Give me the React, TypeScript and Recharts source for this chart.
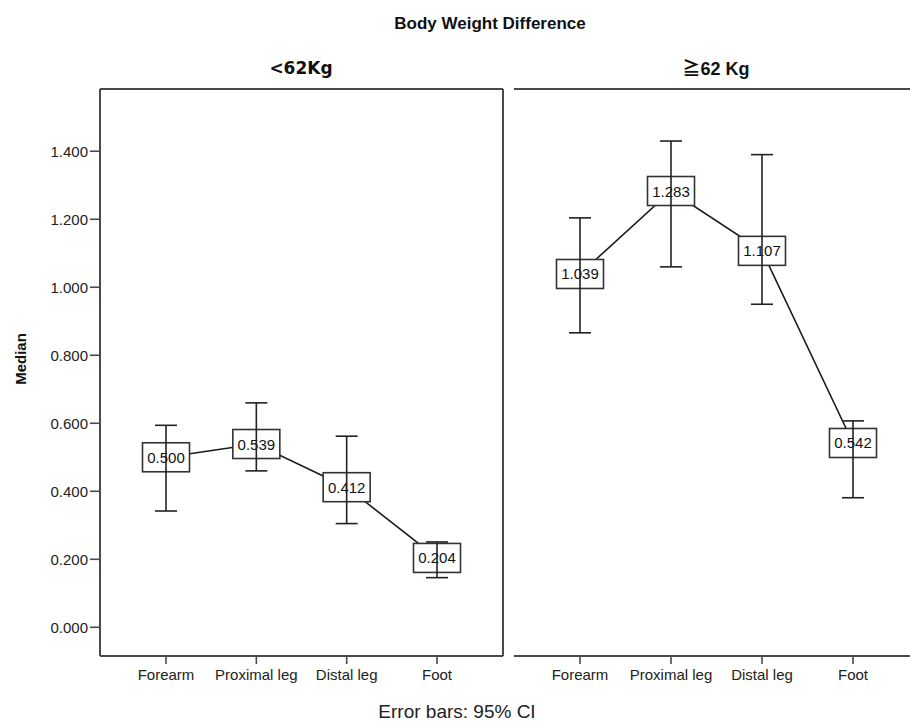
import React from 'react';
import { LineChart, Line, XAxis, YAxis, ErrorBar } from 'recharts';

// ---- data ----
const categories = ['Forearm', 'Proximal leg', 'Distal leg', 'Foot'];
const lightMedian = [0.5, 0.539, 0.412, 0.204];
const lightLower = [0.342, 0.46, 0.305, 0.146];
const lightUpper = [0.594, 0.66, 0.562, 0.251];
const heavyMedian = [1.039, 1.283, 1.107, 0.542];
const heavyLower = [0.866, 1.06, 0.95, 0.381];
const heavyUpper = [1.204, 1.43, 1.39, 0.607];
const yTicks = [0, 0.2, 0.4, 0.6, 0.8, 1.0, 1.2, 1.4];
const panelTitles = ['<62Kg', '≧62 Kg'];
const chartTitle = 'Body Weight Difference';
const yLabel = 'Median';
const footNote = 'Error bars: 95% CI';

const Y_DOMAIN: [number, number] = [-0.0844, 1.583];
const FONT = '"Liberation Sans", Arial, sans-serif';
const FRAME = '#4a4a4a';

function buildRows(median: number[], lower: number[], upper: number[]) {
  return categories.map((cat, i) => ({
    cat,
    median: median[i],
    ci: [median[i] - lower[i], upper[i] - median[i]],
  }));
}

const lightRows = buildRows(lightMedian, lightLower, lightUpper);
const heavyRows = buildRows(heavyMedian, heavyLower, heavyUpper);

const BoxDot = (props: any) => {
  const { cx, cy, index, payload } = props;
  if (cx == null || cy == null) return <g key={`d-${index}`} />;
  const w = 47;
  const h = 29;
  return (
    <g key={`d-${index}`}>
      <rect x={cx - w / 2} y={cy - h / 2} width={w} height={h} fill="#fff" stroke="#333" strokeWidth={1.6} />
      <text
        x={cx}
        y={cy}
        textAnchor="middle"
        dominantBaseline="central"
        fontSize={15}
        fontFamily={FONT}
        fill="#111"
      >
        {payload.median.toFixed(3)}
      </text>
    </g>
  );
};

type PanelProps = {
  rows: any[];
  showY: boolean;
  width: number;
  marginLeft: number;
  marginRight: number;
  layer: 'base' | 'bars';
};

const Panel = ({ rows, showY, width, marginLeft, marginRight, layer }: PanelProps) => {
  const base = layer === 'base';
  const frame = base ? { stroke: FRAME, strokeWidth: 2 } : false;
  return (
    <LineChart
      width={width}
      height={725}
      data={rows}
      margin={{ top: 88, right: marginRight, bottom: 0, left: marginLeft }}
    >
      <XAxis
        dataKey="cat"
        type="category"
        interval={0}
        height={69}
        padding={{ left: 66, right: 66 }}
        tickSize={8}
        tickMargin={5}
        tick={base ? { fontSize: 15, fill: '#222', fontFamily: FONT } : false}
        tickLine={base ? { stroke: FRAME, strokeWidth: 1.6 } : false}
        axisLine={frame}
      />
      <XAxis
        xAxisId="top"
        dataKey="cat"
        type="category"
        orientation="top"
        height={1}
        tick={false}
        tickLine={false}
        axisLine={frame}
      />
      <YAxis
        type="number"
        domain={Y_DOMAIN}
        allowDataOverflow
        ticks={showY ? yTicks : []}
        width={showY ? 100 : 0}
        tick={showY && base ? { fontSize: 15, fill: '#222', fontFamily: FONT } : false}
        tickLine={showY && base ? { stroke: FRAME, strokeWidth: 1.6 } : false}
        tickSize={10}
        tickMargin={2}
        tickFormatter={(v: number) => v.toFixed(3)}
        axisLine={frame}
      />
      <YAxis
        yAxisId="right"
        orientation="right"
        type="number"
        domain={Y_DOMAIN}
        allowDataOverflow
        width={1}
        tick={false}
        tickLine={false}
        axisLine={frame}
      />
      {base ? (
        <Line
          dataKey="median"
          stroke="#1a1a1a"
          strokeWidth={1.6}
          isAnimationActive={false}
          dot={(p: any) => <BoxDot {...p} key={`d-${p.index}`} />}
          activeDot={false}
        />
      ) : (
        <Line
          dataKey="median"
          stroke="none"
          isAnimationActive={false}
          dot={false}
          activeDot={false}
          legendType="none"
        >
          <ErrorBar dataKey="ci" width={11} stroke="#222" strokeWidth={1.6} isAnimationActive={false} />
        </Line>
      )}
    </LineChart>
  );
};

const Panels = ({ layer }: { layer: 'base' | 'bars' }) => (
  <>
    <div style={{ position: 'absolute', left: 0, top: 0 }}>
      <Panel rows={lightRows} showY={true} width={505} marginLeft={0} marginRight={1} layer={layer} />
    </div>
    <div style={{ position: 'absolute', left: 512, top: 0 }}>
      <Panel rows={heavyRows} showY={false} width={408} marginLeft={2} marginRight={0} layer={layer} />
    </div>
  </>
);

export default function App() {
  return (
    <div
      style={{
        position: 'absolute',
        left: 0,
        top: 0,
        width: 910,
        height: 725,
        overflow: 'hidden',
        background: '#fff',
      }}
    >
      <Panels layer="base" />
      <Panels layer="bars" />
      <svg
        width={910}
        height={725}
        style={{ position: 'absolute', left: 0, top: 0, pointerEvents: 'none' }}
      >
        <text x={490} y={29} textAnchor="middle" fontSize={17} fontWeight="bold" fontFamily={FONT} fill="#111">
          {chartTitle}
        </text>
        <text x={301} y={74} textAnchor="middle" fontSize={17} fontWeight="bold" fontFamily={'"DejaVu Sans", ' + FONT} fill="#111">
          {panelTitles[0]}
        </text>
        <text x={716} y={75} textAnchor="middle" fontSize={18} fontWeight="bold" fontFamily={FONT + ', "Noto Sans CJK SC"'} fill="#111">
          {panelTitles[1]}
        </text>
        <text
          x={0}
          y={0}
          transform="translate(26, 359) rotate(-90)"
          textAnchor="middle"
          fontSize={15}
          fontWeight="bold"
          fontFamily={FONT}
          fill="#111"
        >
          {yLabel}
        </text>
        <text x={457} y={718} textAnchor="middle" fontSize={19} fontFamily={FONT} fill="#222">
          {footNote}
        </text>
      </svg>
    </div>
  );
}
